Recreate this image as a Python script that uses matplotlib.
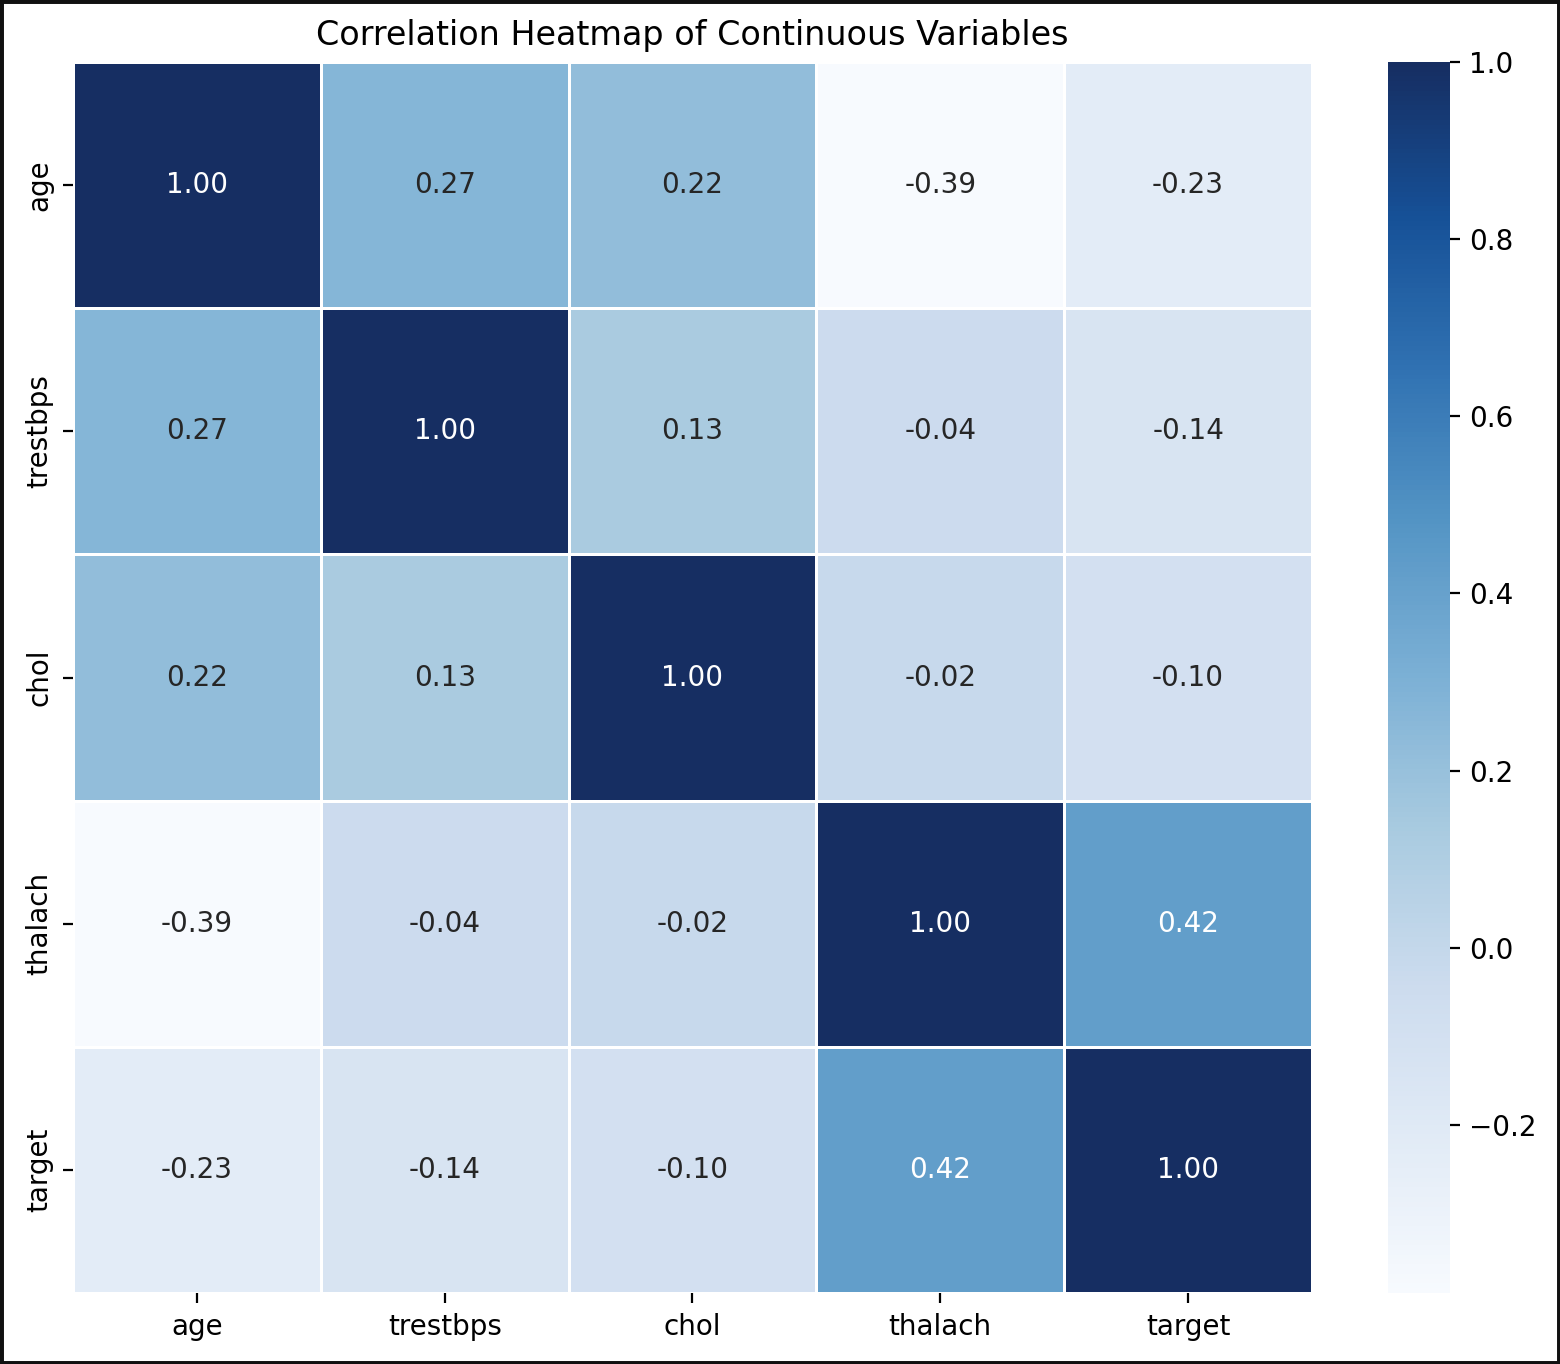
import matplotlib
matplotlib.use("Agg")
import matplotlib.pyplot as plt
import numpy as np
import pandas as pd
import seaborn as sns
from matplotlib.patches import Rectangle
from matplotlib.colors import ListedColormap

variables = ["age", "trestbps", "chol", "thalach", "target"]
row_age = [1.00, 0.27, 0.22, -0.39, -0.23]
row_trestbps = [0.27, 1.00, 0.13, -0.04, -0.14]
row_chol = [0.22, 0.13, 1.00, -0.02, -0.10]
row_thalach = [-0.39, -0.04, -0.02, 1.00, 0.42]
row_target = [-0.23, -0.14, -0.10, 0.42, 1.00]

corr = pd.DataFrame([row_age, row_trestbps, row_chol, row_thalach, row_target],
                    index=variables, columns=variables)

# Blues, with the slightly softer rendering seen in the reference screenshot
base = plt.get_cmap("Blues")(np.linspace(0, 1, 256))[:, :3] * 255
r = np.interp(base[:, 0], [0, 8, 80, 117, 247, 255], [14, 22, 99, 133, 247, 255])
g = np.interp(base[:, 1], [0, 48, 152, 251, 255], [0, 46, 155, 250, 255])
b = np.interp(base[:, 2], [0, 107, 201, 255], [0, 98, 200, 254])
soft_blues = ListedColormap(np.stack([r, g, b], axis=1) / 255.0)

fig = plt.figure(figsize=(7.8, 6.82), dpi=200)
ax = fig.add_axes([0.0468, 0.052, 0.7942, 0.9025])
cax = fig.add_axes([0.8897, 0.052, 0.0398, 0.9025])

sns.heatmap(corr, annot=True, fmt=".2f", cmap=soft_blues, linewidths=0.4,
            linecolor="white", ax=ax, cbar_ax=cax)
ax.set_title("Correlation Heatmap of Continuous Variables", fontsize=12)
ax.tick_params(axis="x", labelsize=10)
ax.tick_params(axis="y", labelsize=10)
cax.tick_params(labelsize=10)

fig.patches.append(Rectangle((0, 0), 1, 1, transform=fig.transFigure,
                             fill=False, edgecolor="#111111", linewidth=2.5,
                             zorder=10))

fig.savefig("out.png", dpi=200)
